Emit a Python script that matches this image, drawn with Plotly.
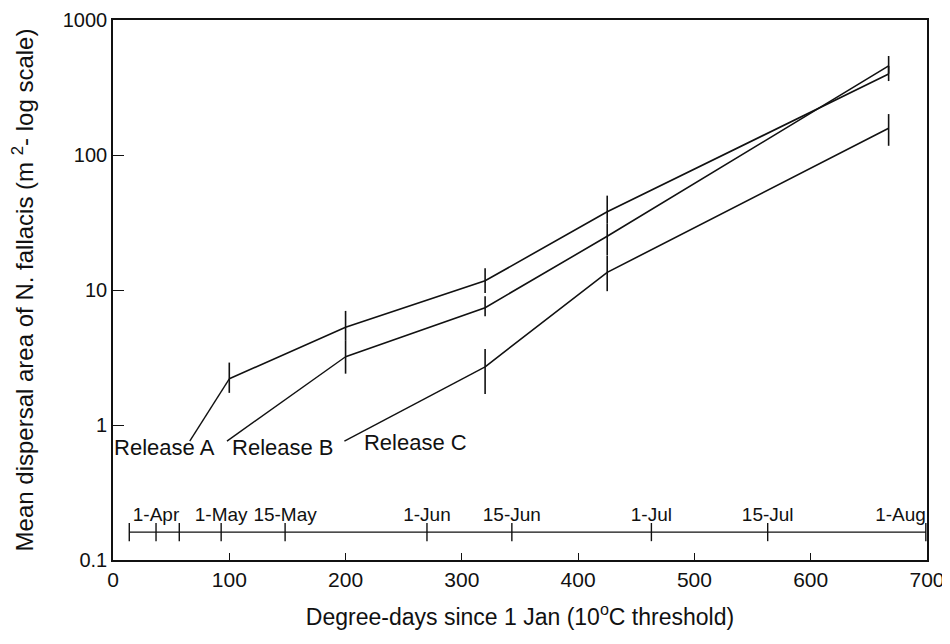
import plotly.graph_objects as go

# ---- data ----
rel_a_x = [100, 200, 320, 425, 667]
rel_a_y = [2.2, 5.3, 11.7, 38, 398]
rel_a_hi = [0.7, 1.7, 2.8, 12, 59]
rel_a_lo = [0.47, 1.1, 2.2, 7, 45]

rel_b_x = [200, 320, 425, 667]
rel_b_y = [3.2, 7.4, 25, 457]
rel_b_hi = [1.0, 1.6, 6, 84]
rel_b_lo = [0.8, 1.0, 7, 57]

rel_c_x = [320, 425, 667]
rel_c_y = [2.7, 13.5, 158]
rel_c_hi = [0.95, 4.4, 43]
rel_c_lo = [1.0, 3.7, 41]

# label anchors (start of leader lines) and label centres
release_names = ["Release A", "Release B", "Release C"]
leader_x = [66, 98, 199]
leader_y = [0.76, 0.76, 0.76]
label_x = [44, 146, 260]
label_y = [0.66, 0.66, 0.72]

# calendar timeline (degree-days of dates)
tick_dd = [14, 37, 57, 93, 148, 270, 343, 463, 563, 699]
date_dd = [37, 93, 148, 270, 343, 463, 563, 699]
date_labels = ["1-Apr", "1-May", "15-May", "1-Jun", "15-Jun", "1-Jul", "15-Jul", "1-Aug"]
timeline_y = 0.161
timeline_label_y = 0.212

x_ticks = [0, 100, 200, 300, 400, 500, 600, 700]
y_ticks = [0.1, 1, 10, 100, 1000]
y_ticktext = ["0.1", "1", "10", "100", "1000"]

FONT = "Liberation Sans, Arial, sans-serif"
BLACK = "#111111"

fig = go.Figure()

def add_series(xs, ys, hi, lo, name):
    fig.add_trace(go.Scatter(
        x=xs, y=ys, mode="lines", name=name,
        line=dict(color=BLACK, width=1.6),
        error_y=dict(type="data", symmetric=False, array=hi, arrayminus=lo,
                     width=0, thickness=1.6, color=BLACK),
        showlegend=False, hoverinfo="skip"))

add_series(rel_a_x, rel_a_y, rel_a_hi, rel_a_lo, "Release A")
add_series(rel_b_x, rel_b_y, rel_b_hi, rel_b_lo, "Release B")
add_series(rel_c_x, rel_c_y, rel_c_hi, rel_c_lo, "Release C")

# leader lines from labels to first point of each series
firsts = [(rel_a_x[0], rel_a_y[0]), (rel_b_x[0], rel_b_y[0]), (rel_c_x[0], rel_c_y[0])]
for (fx, fy), lx, ly in zip(firsts, leader_x, leader_y):
    fig.add_trace(go.Scatter(x=[lx, fx], y=[ly, fy], mode="lines",
                             line=dict(color=BLACK, width=1.4),
                             showlegend=False, hoverinfo="skip"))

fig.add_trace(go.Scatter(x=label_x, y=label_y, mode="text", text=release_names,
                         textfont=dict(family=FONT, size=22, color=BLACK),
                         showlegend=False, hoverinfo="skip"))

# timeline
fig.add_trace(go.Scatter(
    x=tick_dd, y=[timeline_y] * len(tick_dd), mode="lines+markers",
    line=dict(color=BLACK, width=1.4),
    marker=dict(symbol="line-ns", size=13, line=dict(color=BLACK, width=1.4)),
    showlegend=False, hoverinfo="skip"))
positions = ["middle center"] * (len(date_dd) - 1) + ["middle left"]
fig.add_trace(go.Scatter(
    x=date_dd, y=[timeline_label_y] * len(date_dd), mode="text", text=date_labels,
    textposition=positions,
    textfont=dict(family=FONT, size=19, color=BLACK),
    showlegend=False, hoverinfo="skip"))

# the page body adds an 8px offset, so the figure is sized to fit the window
fig.update_layout(
    width=942, height=636,
    margin=dict(l=105, r=23, t=12, b=84),
    paper_bgcolor="white", plot_bgcolor="white",
    font=dict(family=FONT, size=20, color=BLACK),
    xaxis=dict(range=[0, 700], tickvals=x_ticks, ticks="inside", ticklen=7,
               tickwidth=1.4, tickcolor=BLACK, showline=True, linecolor=BLACK,
               linewidth=1.6, mirror=True, showgrid=False, zeroline=False,
               tickfont=dict(size=21), automargin=False,
               title=dict(text="Degree-days since 1 Jan (10<sup>o</sup>C threshold)",
                          font=dict(size=23), standoff=19)),
    yaxis=dict(type="log", range=[-1, 3], tickvals=y_ticks, ticktext=y_ticktext,
               ticks="inside", ticklen=11, tickwidth=1.4, tickcolor=BLACK,
               showline=True, linecolor=BLACK, linewidth=1.6, mirror=True,
               showgrid=False, zeroline=False, tickfont=dict(size=20),
               automargin=False,
               title=dict(text="Mean dispersal area of N. fallacis (m <sup>2</sup>- log scale)",
                          font=dict(size=24), standoff=24)),
)

fig.write_html("out.html")
